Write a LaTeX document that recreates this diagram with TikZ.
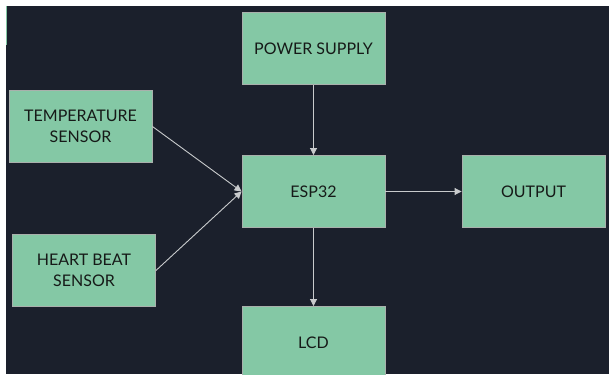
\documentclass[tikz,border=0pt]{standalone}
\usepackage{fontspec}
\setmainfont{Lato}
\usetikzlibrary{arrows.meta}

\definecolor{bgnavy}{HTML}{1B202C}
\definecolor{boxmint}{HTML}{84C8A5}
\definecolor{boxedge}{HTML}{A9B0AC}
\definecolor{wiregray}{HTML}{C8CACC}
\definecolor{labelink}{HTML}{161A18}

\tikzset{
  block/.style={draw=boxedge, line width=0.9pt, fill=boxmint, text=labelink,
    minimum width=143pt, minimum height=72pt, align=center, inner sep=0pt,
    font=\fontsize{16}{21}\selectfont},
  wire/.style={draw=wiregray, line width=0.9pt, -{Triangle[width=7pt,length=7pt]}}
}

\begin{document}
\begin{tikzpicture}[x=1pt, y=-1pt]
  \useasboundingbox (0,0) rectangle (609,374);
  \clip (0,0) rectangle (609,374);

  % Background
  \fill[bgnavy] (6,6) rectangle (609,374);
  \draw[boxmint, line width=1pt] (6.5,6) -- (6.5,45);

  % Blocks
  \node[block] (power) at (313.5,48.5)  {POWER SUPPLY};
  \node[block] (temp)  at (80.5,126.5)  {TEMPERATURE\\SENSOR};
  \node[block] (esp)   at (313.5,191.5) {ESP32};
  \node[block] (out)   at (533.5,191.5) {OUTPUT};
  \node[block] (heart) at (84,270.5)    {HEART BEAT\\SENSOR};
  \node[block] (lcd)   at (313.5,342.5) {LCD};

  % Connections
  \draw[wire] (power) -- (esp);
  \draw[wire] (temp.east) -- (esp.west);
  \draw[wire] (heart.east) -- (esp.west);
  \draw[wire] (esp) -- (out);
  \draw[wire] (esp) -- (lcd);
\end{tikzpicture}
\end{document}
